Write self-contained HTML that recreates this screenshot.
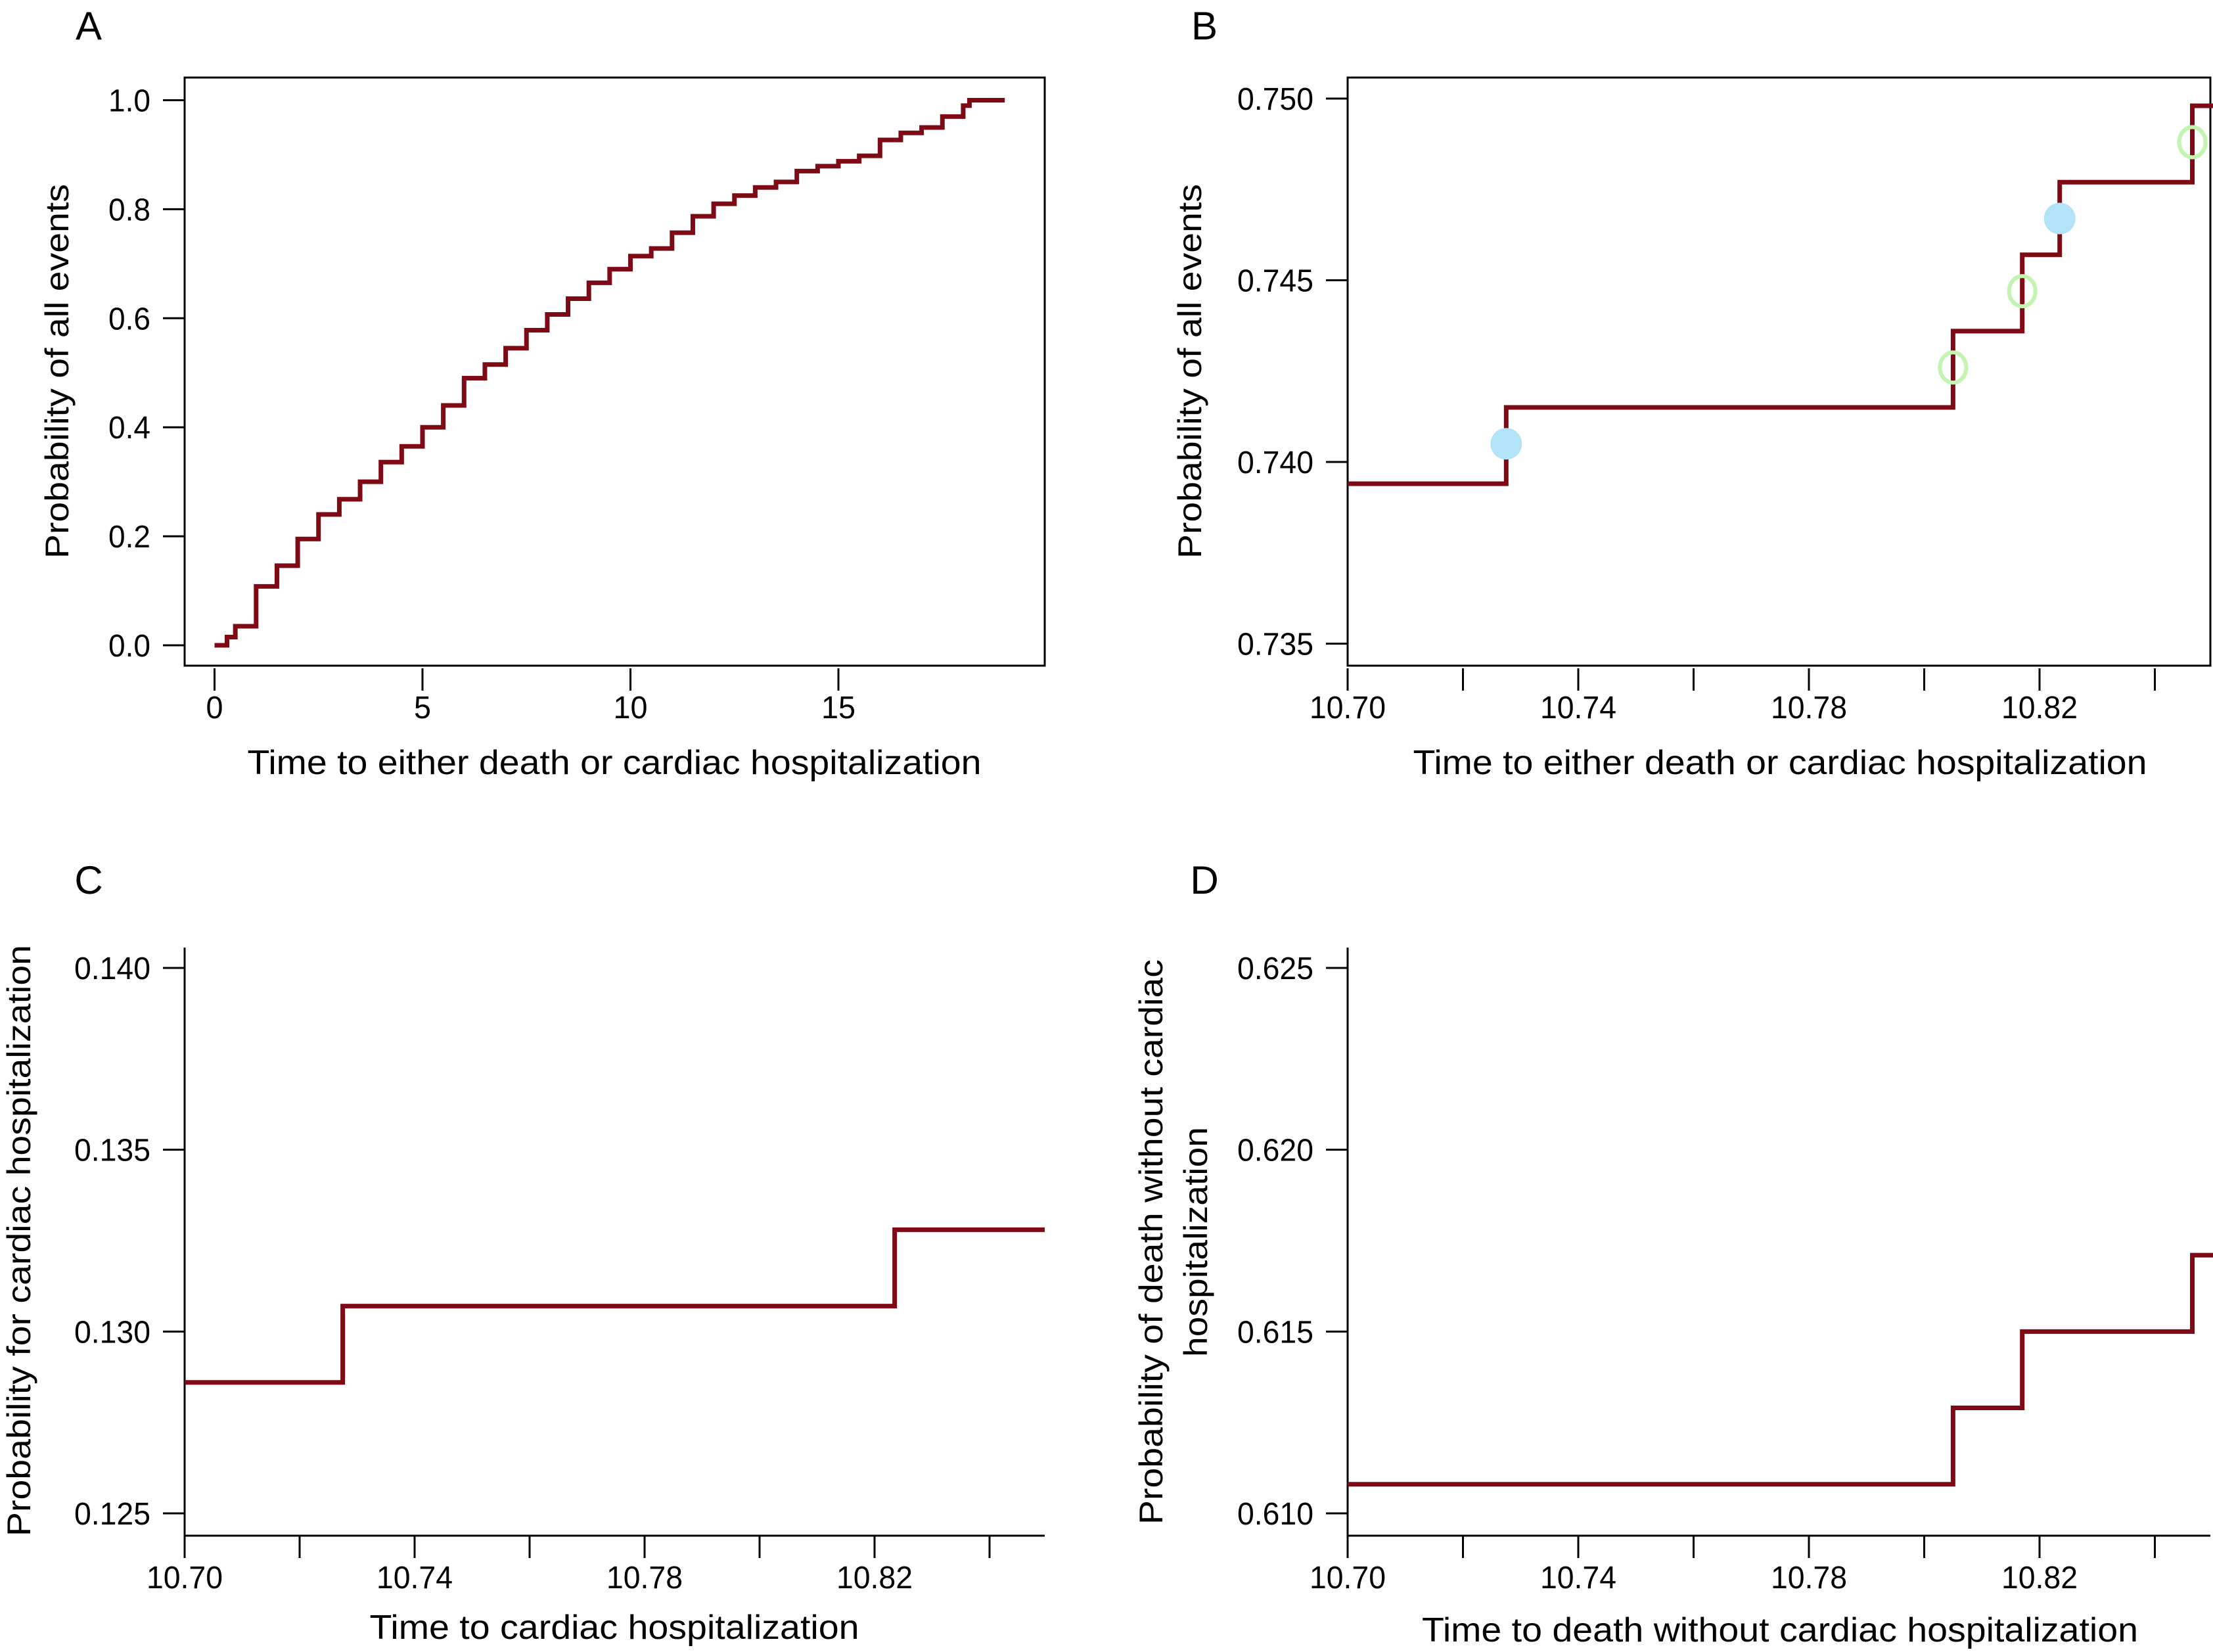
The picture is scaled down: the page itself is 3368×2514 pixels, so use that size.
<!DOCTYPE html>
<html><head><meta charset="utf-8"><style>
html,body{margin:0;padding:0;background:#fff;}
svg{display:block;font-family:"Liberation Sans Narrow","Liberation Sans",sans-serif;}
</style></head><body>
<svg id="fig" width="3368" height="2514" viewBox="0 0 3368 2514" xmlns="http://www.w3.org/2000/svg">
<g transform="translate(88 565) rotate(-90)"><text x="0" y="16" font-size="50" text-anchor="middle" textLength="570" lengthAdjust="spacingAndGlyphs">Probability of all events</text></g>
<g transform="translate(1812 565) rotate(-90)"><text x="0" y="16" font-size="50" text-anchor="middle" textLength="570" lengthAdjust="spacingAndGlyphs">Probability of all events</text></g>
<g transform="translate(30 1888) rotate(-90)"><text x="0" y="16" font-size="50" text-anchor="middle" textLength="900" lengthAdjust="spacingAndGlyphs">Probability for cardiac hospitalization</text></g>
<g transform="translate(1753 1890) rotate(-90)"><text x="0" y="16" font-size="50" text-anchor="middle" textLength="860" lengthAdjust="spacingAndGlyphs">Probability of death without cardiac</text></g>
<g transform="translate(1821 1890) rotate(-90)"><text x="0" y="16" font-size="50" text-anchor="middle" textLength="350" lengthAdjust="spacingAndGlyphs">hospitalization</text></g>
<text x="935" y="1178" font-size="52" text-anchor="middle" textLength="1117" lengthAdjust="spacingAndGlyphs">Time to either death or cardiac hospitalization</text>
<text x="2709" y="1178" font-size="52" text-anchor="middle" textLength="1117" lengthAdjust="spacingAndGlyphs">Time to either death or cardiac hospitalization</text>
<text x="935" y="2494" font-size="52" text-anchor="middle" textLength="745" lengthAdjust="spacingAndGlyphs">Time to cardiac hospitalization</text>
<text x="2709" y="2498" font-size="52" text-anchor="middle" textLength="1090" lengthAdjust="spacingAndGlyphs">Time to death without cardiac hospitalization</text>
<text x="135" y="60" font-size="60" text-anchor="middle">A</text>
<text x="1833" y="60" font-size="60" text-anchor="middle">B</text>
<text x="135" y="1360" font-size="60" text-anchor="middle">C</text>
<text x="1833" y="1360" font-size="60" text-anchor="middle">D</text>
</svg>
<script>
// Panel A data
const aTimes = [0,0.3,0.5,1,1.5,2,2.5,3,3.5,4,4.5,5,5.5,6,6.5,7,7.5,8,8.5,9,9.5,10,10.5,11,11.5,12,12.5,13,13.5,14,14.5,15,15.5,16,16.5,17,17.5,18,18.15];
const aValues = [0,0.015,0.035,0.108,0.146,0.195,0.24,0.268,0.30,0.336,0.365,0.40,0.44,0.49,0.515,0.545,0.578,0.607,0.636,0.665,0.69,0.714,0.728,0.757,0.787,0.81,0.825,0.84,0.85,0.87,0.879,0.888,0.898,0.927,0.94,0.95,0.97,0.99,1.0];
const aEnd = 19.0;
const aXTicks = [0,5,10,15];
const aYTicks = [0,0.2,0.4,0.6,0.8,1.0];
const aYLabels = ["0.0","0.2","0.4","0.6","0.8","1.0"];
// Panel B data
const bTimes = [10.70,10.7275,10.805,10.817,10.8235,10.8465];
const bValues = [0.7394,0.7415,0.7436,0.7457,0.7477,0.7498];
const bFilledT = [10.7275,10.8235];
const bFilledV = [0.7405,0.7467];
const bOpenT = [10.805,10.817,10.8465];
const bOpenV = [0.7426,0.7447,0.7488];
const bYTicks = [0.735,0.740,0.745,0.750];
const bYLabels = ["0.735","0.740","0.745","0.750"];
// Panel C data
const cTimes = [10.70,10.7275,10.8235];
const cValues = [0.1286,0.1307,0.1328];
const cYTicks = [0.125,0.130,0.135,0.140];
const cYLabels = ["0.125","0.130","0.135","0.140"];
const cEnd = 10.8496;
// Panel D data
const dTimes = [10.70,10.805,10.817,10.8465];
const dValues = [0.6108,0.6129,0.6150,0.6171];
const dYTicks = [0.610,0.615,0.620,0.625];
const dYLabels = ["0.610","0.615","0.620","0.625"];
// shared zoom x ticks
const zMajor = [10.70,10.74,10.78,10.82];
const zMajorLabels = ["10.70","10.74","10.78","10.82"];
const zMinor = [10.72,10.76,10.80,10.84];
const zEnd = 10.8515;

const NS='http://www.w3.org/2000/svg';
const svg=document.getElementById('fig');
const RED='#7d0a14';
function mk(tag,attrs,parent){const e=document.createElementNS(NS,tag);for(const k in attrs)e.setAttribute(k,attrs[k]);(parent||svg).appendChild(e);return e;}
function txt(s,attrs,parent){const e=mk('text',attrs,parent);e.textContent=s;return e;}
function lblLen(s){let n=0;for(const ch of s)n+=(ch==='.')?12:26;return n;}

function stepPath(ts,vs,end,sx,sy){
  let d='M'+sx(ts[0])+','+sy(vs[0]);
  for(let i=1;i<ts.length;i++){d+=' H'+sx(ts[i])+' V'+sy(vs[i]);}
  d+=' H'+sx(end);
  return d;
}

function panel(o){
  const g=mk('g',{});
  
  
  if(o.box){
    const r=mk('rect',{x:o.L,y:o.T,width:o.R-o.L,height:o.B-o.T,fill:'none',stroke:'#000','stroke-width':3},g);
    
    
  } else {
    const ax=mk('path',{d:'M'+o.L+','+o.T+' V'+o.B+' H'+o.R,fill:'none',stroke:'#000','stroke-width':3},g);
    
    
  }
  o.yTicks.forEach((v,i)=>{
    const y=o.sy(v);
    const t=mk('line',{x1:o.L-33,x2:o.L,y1:y,y2:y,stroke:'#000','stroke-width':3},g);
    
    
    const l=txt(o.yLabels[i],{x:o.L-52,y:y+17,'font-size':48,'text-anchor':'end',textLength:lblLen(o.yLabels[i]),lengthAdjust:'spacingAndGlyphs'},g);
    
    
  });
  const tb=o.B+(o.box?4:0);
  o.xTicks.forEach((v,i)=>{
    const x=o.sx(v);
    const t=mk('line',{x1:x,x2:x,y1:tb,y2:tb+34,stroke:'#000','stroke-width':3},g);
    
    
    const l=txt(o.xLabels[i],{x:x,y:o.B+80,'font-size':48,'text-anchor':'middle',textLength:lblLen(o.xLabels[i]),lengthAdjust:'spacingAndGlyphs'},g);
    
    
  });
  (o.xMinor||[]).forEach(v=>{
    const x=o.sx(v);
    const t=mk('line',{x1:x,x2:x,y1:tb,y2:tb+34,stroke:'#000','stroke-width':3},g);
    
    
  });
  const p=mk('path',{d:stepPath(o.ts,o.vs,o.end,o.sx,o.sy),fill:'none',stroke:RED,'stroke-width':7},g);
  
  
  return g;
}

const axA=t=>326.5+t*63.3, ayA=v=>982-v*829.5;
panel({name:'panel-a',box:true,L:281,R:1590,T:118,B:1013,sx:axA,sy:ayA,
  yTicks:aYTicks,yLabels:aYLabels,xTicks:aXTicks,xLabels:aXTicks.map(String),
  ts:aTimes,vs:aValues,end:aEnd});

const axB=t=>2051+(t-10.70)/0.04*351, ayB=v=>150+(0.750-v)/0.015*829.5;
const gB=panel({name:'panel-b',box:true,L:2051,R:3364,T:118,B:1013,sx:axB,sy:ayB,
  yTicks:bYTicks,yLabels:bYLabels,xTicks:zMajor,xLabels:zMajorLabels,xMinor:zMinor,
  ts:bTimes,vs:bValues,end:zEnd});
bFilledT.forEach((t,i)=>{
  const c=mk('circle',{cx:axB(t),cy:ayB(bFilledV[i]),r:24,fill:'#b3e3f7'},gB);
  
  
});
bOpenT.forEach((t,i)=>{
  const c=mk('ellipse',{cx:axB(t),cy:ayB(bOpenV[i]),rx:20,ry:23,fill:'none',stroke:'#c3f5b0','stroke-width':6},gB);
  
  
});

const axC=t=>281+(t-10.70)/0.04*350, ayC=v=>1473+(0.140-v)/0.015*830;
panel({name:'panel-c',box:false,L:281,R:1590,T:1442,B:2337,sx:axC,sy:ayC,
  yTicks:cYTicks,yLabels:cYLabels,xTicks:zMajor,xLabels:zMajorLabels,xMinor:zMinor,
  ts:cTimes,vs:cValues,end:cEnd});

const axD=t=>2051+(t-10.70)/0.04*351, ayD=v=>1473+(0.625-v)/0.015*830;
panel({name:'panel-d',box:false,L:2051,R:3364,T:1442,B:2337,sx:axD,sy:ayD,
  yTicks:dYTicks,yLabels:dYLabels,xTicks:zMajor,xLabels:zMajorLabels,xMinor:zMinor,
  ts:dTimes,vs:dValues,end:zEnd});
</script>
</body></html>
